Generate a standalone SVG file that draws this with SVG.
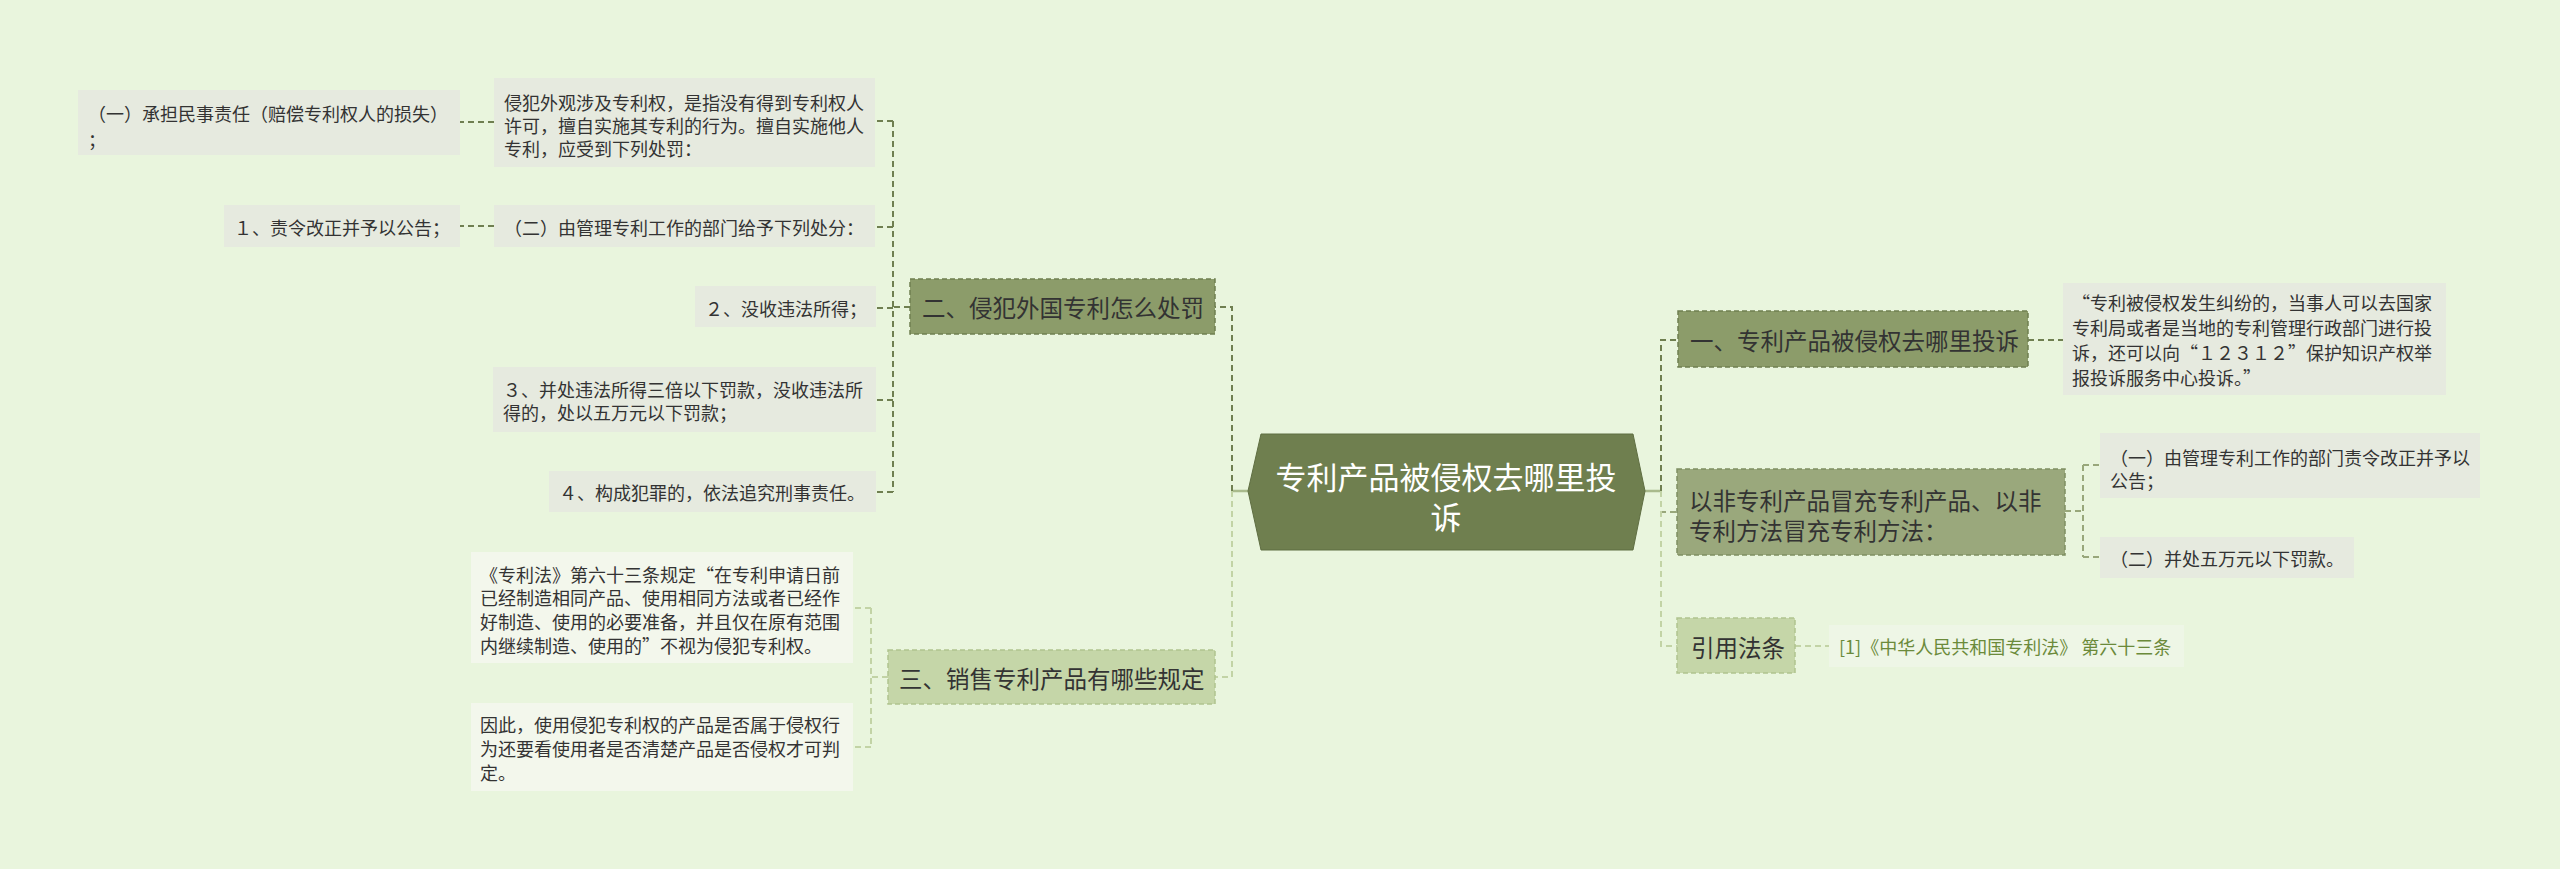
<svg xmlns="http://www.w3.org/2000/svg" width="2560" height="869" viewBox="0 0 2560 869">
<style>
text{font-family:"Noto Sans CJK SC","Noto Sans",sans-serif;dominant-baseline:central;}
.leaf{fill:#e6eadf;}
.leafw{fill:#f3f7ec;}
.lt{font-size:18px;fill:#333;}
.bt{font-size:23.5px;fill:#333;}
.b1{fill:#8c9c6a;stroke:#6f7f50;stroke-width:1.5;stroke-dasharray:5 3;}
.b2{fill:#9aa87c;stroke:#7f8e62;stroke-width:1.5;stroke-dasharray:5 3;}
.b3{fill:#c5d6a8;stroke:#b0c38f;stroke-width:1.5;stroke-dasharray:5 3;}
.c{fill:none;stroke-width:2;stroke-dasharray:6 4;}
.cd{stroke:#6f7f50;}
.cm{stroke:#98a77a;}
.cl{stroke:#c2d3a5;}
.cs{fill:none;stroke:#a9ba8c;stroke-width:2.5;}
</style>
<rect width="2560" height="869" fill="#e9f5dd"/>
<g id="connectors">
<path class="cs" d="M1248 491H1232M1645 491H1661"/>
<path class="c cd" d="M1232 491V307H1215"/>
<path class="c cl" d="M1232 491V677H1215"/>
<path class="c cd" d="M1661 491V340H1678"/>
<path class="c cm" d="M1661 491V512H1677"/>
<path class="c cl" d="M1661 491V646H1677"/>
<path class="c cd" d="M910 307H893M893 121V492M893 121H876M893 227H876M893 308H876M893 400H876M893 492H876"/>
<path class="c cd" d="M494 122H460M494 226H460"/>
<path class="c cl" d="M888 677H871M871 608V747M871 608H853M871 747H853"/>
<path class="c cd" d="M2028 340H2063"/>
<path class="c cm" d="M2065 511H2083M2083 465V557M2083 465H2100M2083 557H2100"/>
<path class="c cl" d="M1795 646H1829"/>
</g>
<g id="center">
<polygon points="1261,434 1633,434 1645,491 1633,550 1261,550 1248,491" fill="#6f7f4f" stroke="#5f6e42" stroke-width="1"/>
<text x="1446" y="475" text-anchor="middle" style="font-size:31px;fill:#fff">专利产品被侵权去哪里投</text>
<text x="1446" y="515" text-anchor="middle" style="font-size:31px;fill:#fff">诉</text>
</g>
<g id="n2">
<rect class="b1" x="910" y="279" width="305" height="55"/>
<text class="bt" x="922" y="307">二、侵犯外国专利怎么处罚</text>
</g>
<g id="n2a">
<rect class="leaf" x="494" y="78" width="381" height="89"/>
<text class="lt" x="504" y="102">侵犯外观涉及专利权，是指没有得到专利权人</text>
<text class="lt" x="504" y="125">许可，擅自实施其专利的行为。擅自实施他人</text>
<text class="lt" x="504" y="148">专利，应受到下列处罚：</text>
</g>
<g id="n2a1">
<rect class="leaf" x="78" y="90" width="382" height="65"/>
<text class="lt" x="88" y="113">（一）承担民事责任（赔偿专利权人的损失）</text>
<text class="lt" x="88" y="139">；</text>
</g>
<g id="n2b">
<rect class="leaf" x="494" y="205" width="381" height="42"/>
<text class="lt" x="504" y="227">（二）由管理专利工作的部门给予下列处分：</text>
</g>
<g id="n2b1">
<rect class="leaf" x="224" y="205" width="236" height="42"/>
<text class="lt" x="234" y="227">１、责令改正并予以公告；</text>
</g>
<g id="n2c">
<rect class="leaf" x="695" y="286" width="181" height="41"/>
<text class="lt" x="705" y="308">２、没收违法所得；</text>
</g>
<g id="n2d">
<rect class="leaf" x="493" y="367" width="383" height="65"/>
<text class="lt" x="503" y="389">３、并处违法所得三倍以下罚款，没收违法所</text>
<text class="lt" x="503" y="412">得的，处以五万元以下罚款；</text>
</g>
<g id="n2e">
<rect class="leaf" x="549" y="471" width="327" height="41"/>
<text class="lt" x="559" y="492">４、构成犯罪的，依法追究刑事责任。</text>
</g>
<g id="n3">
<rect class="b3" x="888" y="650" width="327" height="54"/>
<text class="bt" x="899" y="678">三、销售专利产品有哪些规定</text>
</g>
<g id="n3a">
<rect class="leafw" x="471" y="552" width="382" height="111"/>
<text class="lt" x="480" y="574">《专利法》第六十三条规定“在专利申请日前</text>
<text class="lt" x="480" y="597">已经制造相同产品、使用相同方法或者已经作</text>
<text class="lt" x="480" y="621">好制造、使用的必要准备，并且仅在原有范围</text>
<text class="lt" x="480" y="645">内继续制造、使用的”不视为侵犯专利权。</text>
</g>
<g id="n3b">
<rect class="leafw" x="471" y="703" width="382" height="88"/>
<text class="lt" x="480" y="724">因此，使用侵犯专利权的产品是否属于侵权行</text>
<text class="lt" x="480" y="748">为还要看使用者是否清楚产品是否侵权才可判</text>
<text class="lt" x="480" y="772">定。</text>
</g>
<g id="n1">
<rect class="b1" x="1678" y="311" width="350" height="56"/>
<text class="bt" x="1690" y="340">一、专利产品被侵权去哪里投诉</text>
</g>
<g id="n1a">
<rect class="leaf" x="2063" y="283" width="383" height="112"/>
<text class="lt" x="2072" y="302">“专利被侵权发生纠纷的，当事人可以去国家</text>
<text class="lt" x="2072" y="327">专利局或者是当地的专利管理行政部门进行投</text>
<text class="lt" x="2072" y="352">诉，还可以向“１２３１２”保护知识产权举</text>
<text class="lt" x="2072" y="377">报投诉服务中心投诉。”</text>
</g>
<g id="n4">
<rect class="b2" x="1677" y="469" width="388" height="86"/>
<text class="bt" x="1689" y="500">以非专利产品冒充专利产品、以非</text>
<text class="bt" x="1689" y="530">专利方法冒充专利方法：</text>
</g>
<g id="n4a">
<rect class="leaf" x="2100" y="433" width="380" height="65"/>
<text class="lt" x="2110" y="457">（一）由管理专利工作的部门责令改正并予以</text>
<text class="lt" x="2110" y="480">公告；</text>
</g>
<g id="n4b">
<rect class="leaf" x="2100" y="537" width="254" height="41"/>
<text class="lt" x="2110" y="558">（二）并处五万元以下罚款。</text>
</g>
<g id="n5">
<rect class="b3" x="1677" y="618" width="118" height="55"/>
<text class="bt" x="1691" y="647">引用法条</text>
</g>
<g id="n5a">
<rect x="1829" y="625" width="355" height="42" fill="#eef6e6"/>
<text x="1839" y="646" style="font-size:18px;fill:#6b8a3a">[1]《中华人民共和国专利法》 第六十三条</text>
</g>
</svg>
